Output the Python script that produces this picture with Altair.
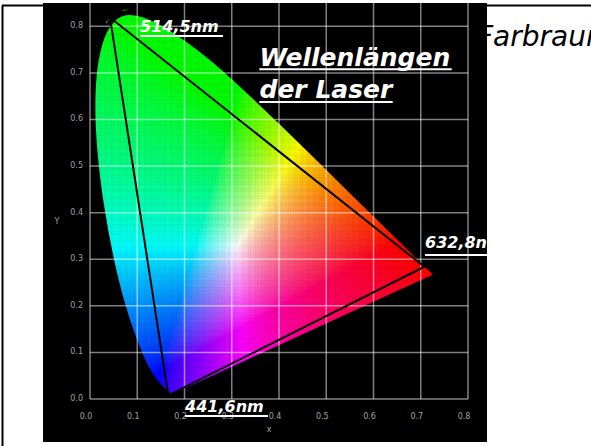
import altair as alt
import numpy as np
import pandas as pd

# CIE 1931 spectral locus: wavelength (nm) and chromaticity coordinates
locus_nm = [380, 400, 420, 430, 440, 450, 460, 465, 470, 475, 480, 485, 490,
            495, 500, 505, 510, 515, 520, 525, 530, 535, 540, 545, 550, 555,
            560, 565, 570, 575, 580, 585, 590, 595, 600, 605, 610, 620, 630,
            640, 650, 700]
locus_x = [0.1741, 0.1733, 0.1714, 0.1689, 0.1644, 0.1566, 0.1440, 0.1355,
           0.1241, 0.1096, 0.0913, 0.0687, 0.0454, 0.0235, 0.0082, 0.0039,
           0.0139, 0.0389, 0.0743, 0.1142, 0.1547, 0.1929, 0.2296, 0.2658,
           0.3016, 0.3373, 0.3731, 0.4087, 0.4441, 0.4788, 0.5125, 0.5448,
           0.5752, 0.6029, 0.6270, 0.6482, 0.6658, 0.6915, 0.7079, 0.7190,
           0.7260, 0.7347]
locus_y = [0.0050, 0.0048, 0.0051, 0.0069, 0.0109, 0.0177, 0.0297, 0.0399,
           0.0578, 0.0868, 0.1327, 0.2007, 0.2950, 0.4127, 0.5384, 0.6548,
           0.7502, 0.8120, 0.8338, 0.8262, 0.8059, 0.7816, 0.7543, 0.7243,
           0.6923, 0.6589, 0.6245, 0.5896, 0.5547, 0.5202, 0.4866, 0.4544,
           0.4242, 0.3965, 0.3725, 0.3514, 0.3340, 0.3083, 0.2920, 0.2809,
           0.2740, 0.2653]

# Laser lines spanning the triangle
laser_names = ["514,5nm", "632,8nm", "441,6nm"]
laser_x = [0.0423, 0.7075, 0.1657]
laser_y = [0.8190, 0.2840, 0.0079]

# Axis ticks
tick_values = [0.0, 0.1, 0.2, 0.3, 0.4, 0.5, 0.6, 0.7, 0.8]
tick_labels = ["0.0", "0.1", "0.2", "0.3", "0.4", "0.5", "0.6", "0.7", "0.8"]

# Annotation texts with their anchor points (data units) and underlines
note_text = ["514,5nm", "Wellenlängen", "der Laser", "632,8nm", "441,6nm"]
note_x = [0.1058, 0.3587, 0.3587, 0.7090, 0.2011]
note_y = [0.7884, 0.7155, 0.6454, 0.3235, -0.0273]
note_size = [16, 25, 25, 16, 16]
under_x1 = [0.1058, 0.3583, 0.3583, 0.7090, 0.2011]
under_x2 = [0.2815, 0.7655, 0.6406, 0.8600, 0.3767]
under_y = [0.7791, 0.7077, 0.6375, 0.3091, -0.0365]

FONT = "DejaVu Sans"
STEP = 0.005

# ---- colour raster inside the spectral locus ----
px = np.array(locus_x)
py = np.array(locus_y)
gx, gy = np.meshgrid(np.arange(0.0, 0.75, STEP), np.arange(0.0, 0.845, STEP))
cx = gx + STEP / 2
cy = gy + STEP / 2
inside = np.zeros(cx.shape, dtype=bool)
j = len(px) - 1
for i in range(len(px)):
    xi, yi, xj, yj = px[i], py[i], px[j], py[j]
    cross = ((yi > cy) != (yj > cy)) & (
        cx < (xj - xi) * (cy - yi) / (yj - yi + 1e-12) + xi)
    inside ^= cross
    j = i

cxi, cyi = cx[inside], cy[inside]
X = cxi / cyi
Z = (1 - cxi - cyi) / cyi
M = np.array([[3.2406, -1.5372, -0.4986],
              [-0.9689, 1.8758, 0.0415],
              [0.0557, -0.2040, 1.0570]])
lin = np.stack([M[k, 0] * X + M[k, 1] + M[k, 2] * Z for k in range(3)], axis=-1)
lin = np.clip(lin, 0, None)
lin = lin / lin.max(axis=-1, keepdims=True)
enc = lin ** (1 / 1.5)
rgb8 = np.clip(np.round(enc * 255), 0, 255).astype(int)
hexcols = ["#%02x%02x%02x" % tuple(v) for v in rgb8]

raster = pd.DataFrame({
    "x": np.round(gx[inside], 4),
    "y": np.round(gy[inside], 4),
    "c": hexcols,
})

x_scale = alt.Scale(domain=[-0.0995, 0.8402], nice=False, zero=False)
y_scale = alt.Scale(domain=[-0.0923, 0.85], nice=False, zero=False)

def X_(field):
    return alt.X(field, type="quantitative", scale=x_scale, axis=None)

def Y_(field):
    return alt.Y(field, type="quantitative", scale=y_scale, axis=None)

# ---- page frame lines ----
frame_h = alt.Chart(pd.DataFrame({"k": [0]})).mark_rule(
    color="black", strokeWidth=2).encode(
    x=alt.value(-41), x2=alt.value(548), y=alt.value(2.5))
frame_v = alt.Chart(pd.DataFrame({"k": [0]})).mark_rule(
    color="black", strokeWidth=2).encode(
    x=alt.value(-40.5), y=alt.value(2.5), y2=alt.value(443))

farbraum = alt.Chart(pd.DataFrame({"t": ["Farbraum"]})).mark_text(
    font=FONT, fontSize=28, fontStyle="italic", color="black",
    align="left", baseline="alphabetic", clip=False).encode(
    x=alt.value(434), y=alt.value(43), text="t:N")

# ---- chromaticity colour field ----
field = alt.Chart(raster).transform_calculate(
    x2=f"datum.x + {STEP}", y2=f"datum.y + {STEP}"
).mark_rect(strokeWidth=0.5).encode(
    x=X_("x"), x2="x2:Q", y=Y_("y"), y2="y2:Q",
    fill=alt.Fill("c:N", scale=None, legend=None),
    stroke=alt.Stroke("c:N", scale=None, legend=None),
)

# dark rim along the locus (B-spline) smooths the cell edges;
# the two ends of the purple line are repeated to keep their corners sharp
rim_x = locus_x[:1] * 2 + locus_x + locus_x[-1:] * 2 + locus_x[:1] * 3
rim_y = locus_y[:1] * 2 + locus_y + locus_y[-1:] * 2 + locus_y[:1] * 3
rim_df = pd.DataFrame({"x": rim_x, "y": rim_y, "o": list(range(len(rim_x)))})
rim = alt.Chart(rim_df).mark_line(
    color="black", strokeWidth=5, interpolate="basis").encode(
    x=X_("x"), y=Y_("y"), order="o:Q")

# ---- grid ----
grid_df = pd.DataFrame({"v": tick_values})
vgrid = alt.Chart(grid_df).transform_calculate(
    y0="0", y1="0.85"
).mark_rule(color="white", opacity=0.5, strokeWidth=1.5).encode(
    x=X_("v"), y=Y_("y0"), y2="y1:Q")
hgrid = alt.Chart(grid_df).transform_calculate(
    x0="0", x1="0.8"
).mark_rule(color="white", opacity=0.5, strokeWidth=1.5).encode(
    y=Y_("v"), x=X_("x0"), x2="x1:Q")

# ---- laser triangle ----
tri = pd.DataFrame({
    "x": laser_x + laser_x[:1],
    "y": laser_y + laser_y[:1],
    "o": list(range(len(laser_x) + 1)),
})
triangle = alt.Chart(tri).mark_line(color="black", strokeWidth=2).encode(
    x=X_("x"), y=Y_("y"), order="o:Q")

# ---- tick labels and axis titles ----
ticks_df = pd.DataFrame({"v": tick_values, "t": tick_labels})
xlabels = alt.Chart(ticks_df).mark_text(
    font=FONT, fontSize=8, color="#a0a0a0", dx=-4, baseline="middle").encode(
    x=X_("v"), y=alt.value(413.5), text="t:N")
ylabels = alt.Chart(ticks_df).mark_text(
    font=FONT, fontSize=8, color="#a0a0a0", align="right", baseline="middle").encode(
    y=Y_("v"), x=alt.value(40), text="t:N")
xtitle = alt.Chart(pd.DataFrame({"t": ["x"]})).mark_text(
    font=FONT, fontSize=8, color="#a0a0a0").encode(
    x=alt.value(226), y=alt.value(427), text="t:N")
ytitle = alt.Chart(pd.DataFrame({"t": ["Y"]})).mark_text(
    font=FONT, fontSize=8, color="#a0a0a0").encode(
    x=alt.value(14), y=alt.value(219), text="t:N")

# ---- annotations ----
notes = pd.DataFrame({
    "t": note_text, "x": note_x, "y": note_y, "fs": note_size,
    "u1": under_x1, "u2": under_x2, "uy": under_y,
})
note_text_layer = alt.Chart(notes).mark_text(
    font=FONT, fontStyle="italic", fontWeight="bold", color="white",
    align="left", baseline="alphabetic", clip=True).encode(
    x=X_("x"), y=Y_("y"), text="t:N",
    size=alt.Size("fs:Q", scale=None, legend=None))
note_lines = alt.Chart(notes).mark_rule(
    color="white", strokeWidth=2, clip=True).encode(
    x=X_("u1"), x2="u2:Q", y=Y_("uy"))

chart = alt.layer(
    frame_h, frame_v, farbraum, field, rim, vgrid, hgrid, triangle,
    xlabels, ylabels, xtitle, ytitle, note_lines, note_text_layer,
).properties(
    width=444, height=439,
    padding={"left": 43, "top": 3, "right": 104, "bottom": 4},
    autosize="none",
).configure(background="white").configure_view(
    fill="black", strokeWidth=0)

chart.save("out.html", embed_options={"renderer": "svg", "actions": False})
